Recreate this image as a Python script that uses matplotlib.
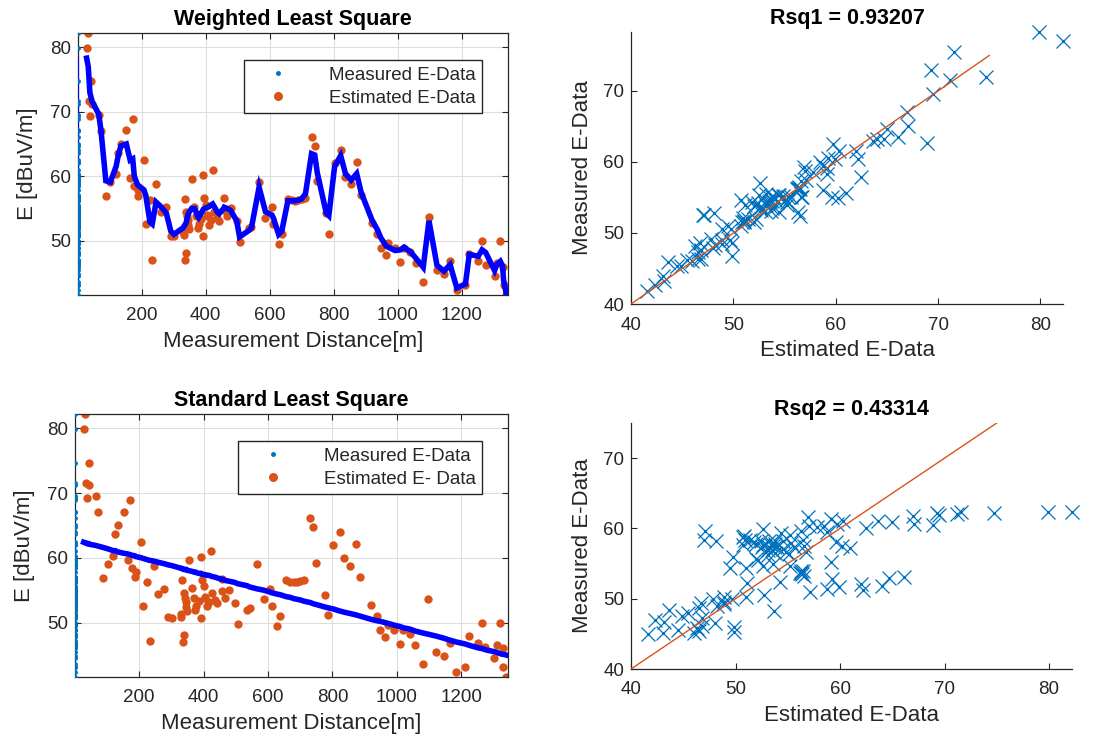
import matplotlib
import numpy as np

matplotlib.use("Agg")
import matplotlib.pyplot as plt
from matplotlib.lines import Line2D

# Measurement distance [m] of every estimated sample
distance = [
    28, 33, 35, 38, 43, 45, 66, 73, 88, 102, 120, 126, 135, 152, 164, 172,
    177, 187, 189, 207, 213, 226, 233, 245, 260, 277, 291, 301, 329, 331,
    334, 336, 339, 340, 342, 344, 346, 348, 356, 365, 370, 375, 378, 385,
    391, 393, 396, 401, 403, 406, 411, 416, 422, 427, 437, 442, 456, 458,
    468, 478, 497, 506, 535, 543, 567, 587, 607, 612, 628, 638, 657, 669,
    680, 690, 700, 712, 731, 741, 749, 777, 785, 803, 822, 837, 855, 872,
    886, 920, 937, 947, 964, 971, 992, 1009, 1020, 1040, 1057, 1080, 1098,
    1123, 1145, 1164, 1185, 1212, 1224, 1252, 1264, 1275, 1303, 1310, 1321,
    1328, 1331, 1339,
]

# Estimated E-data [dBuV/m] (orange dots)
estimated = [
    79.9, 82.2, 71.6, 69.3, 74.7, 71.2, 69.5, 67.0, 56.9, 59.1, 60.3, 63.6,
    65.0, 67.1, 59.7, 68.9, 58.5, 57.0, 57.8, 62.5, 52.6, 56.3, 47.1, 58.8,
    54.4, 55.2, 50.8, 50.7, 51.4, 50.9, 56.5, 47.0, 48.1, 54.5, 53.8, 53.2,
    52.4, 51.8, 59.6, 55.3, 53.8, 52.0, 52.6, 53.4, 50.7, 60.2, 56.6, 55.6,
    54.0, 53.8, 52.5, 53.2, 61.0, 54.5, 53.5, 53.1, 56.7, 54.8, 53.8, 55.1,
    53.1, 49.8, 52.0, 52.2, 59.1, 53.6, 55.2, 52.6, 49.5, 51.0, 56.5, 56.3,
    56.2, 56.3, 56.4, 56.6, 66.1, 64.7, 59.2, 54.3, 51.1, 62.0, 64.0, 59.9,
    58.8, 62.2, 57.1, 52.7, 51.0, 48.9, 47.8, 49.7, 48.9, 46.7, 48.9, 48.2,
    46.5, 43.6, 53.7, 45.5, 44.9, 46.8, 42.3, 43.2, 48.0, 46.8, 49.9, 46.3,
    44.5, 46.5, 49.9, 46.0, 43.1, 41.6,
]

# Weighted least square fit at each distance
wls_fit = [
    78.3, 77.0, 75.5, 73.0, 72.0, 71.6, 69.6, 67.0, 59.3, 59.1, 61.5, 63.0,
    64.7, 65.0, 62.5, 62.7, 60.0, 58.7, 58.6, 57.9, 57.0, 52.9, 52.6, 56.0,
    55.3, 54.3, 51.5, 51.0, 52.0, 52.1, 52.4, 52.5, 52.8, 53.0, 53.5, 53.9,
    54.2, 54.4, 55.0, 55.0, 54.5, 53.8, 53.6, 54.2, 54.7, 54.9, 55.0, 55.1,
    55.1, 55.2, 55.3, 55.5, 55.7, 55.3, 54.4, 54.2, 55.0, 55.2, 55.0, 54.7,
    53.1, 50.6, 51.6, 52.0, 58.3, 54.5, 54.0, 53.5, 51.0, 51.5, 56.2, 56.2,
    56.2, 56.3, 56.5, 57.3, 63.5, 63.3, 60.5, 54.3, 53.9, 61.5, 63.2, 60.4,
    59.4, 60.4, 57.5, 53.2, 51.7, 50.5, 49.2, 49.0, 48.5, 48.6, 49.0, 48.3,
    47.3, 45.9, 53.1, 46.2, 45.3, 46.3, 42.7, 43.3, 47.9, 47.6, 48.6, 48.2,
    45.4, 46.3, 46.8, 46.1, 44.0, 41.9,
]

# Standard least square fit at each distance
sls_fit = [
    62.4, 62.3, 62.3, 62.2, 62.2, 62.1, 61.9, 61.8, 61.6, 61.4, 61.1, 61.1,
    60.9, 60.7, 60.6, 60.5, 60.4, 60.3, 60.2, 60.0, 59.9, 59.7, 59.6, 59.5,
    59.3, 59.1, 58.9, 58.8, 58.4, 58.4, 58.3, 58.3, 58.2, 58.2, 58.2, 58.2,
    58.2, 58.1, 58.0, 57.9, 57.8, 57.8, 57.7, 57.6, 57.6, 57.5, 57.5, 57.4,
    57.4, 57.4, 57.3, 57.3, 57.2, 57.1, 57.0, 56.9, 56.7, 56.7, 56.5, 56.4,
    56.2, 56.0, 55.7, 55.5, 55.2, 55.0, 54.7, 54.6, 54.4, 54.3, 54.0, 53.9,
    53.7, 53.6, 53.5, 53.3, 53.1, 52.9, 52.8, 52.4, 52.3, 52.1, 51.8, 51.6,
    51.4, 51.2, 51.0, 50.5, 50.3, 50.2, 50.0, 49.9, 49.6, 49.4, 49.2, 49.0,
    48.7, 48.4, 48.2, 47.9, 47.6, 47.3, 47.0, 46.7, 46.5, 46.1, 46.0, 45.8,
    45.5, 45.4, 45.2, 45.1, 45.1, 45.0,
]

measured_x = 1          # measured series is drawn at x = 1 on the distance axis
ref_line = [40, 75]     # y = x reference line
rsq1 = 0.93207
rsq2 = 0.43314

MATLAB_BLUE = "#0072BD"
MATLAB_ORANGE = "#D95319"
AXIS_GREY = "#262626"
FIG_W, FIG_H = 1097, 736

plt.rcParams["font.family"] = ["Liberation Sans", "DejaVu Sans"]


def _rect(left, top, right, bottom):
    return [left / FIG_W, 1 - bottom / FIG_H, (right - left) / FIG_W, (bottom - top) / FIG_H]


def _style_axes(ax, boxed: bool) -> None:
    for side, spine in ax.spines.items():
        spine.set_color(AXIS_GREY)
        spine.set_linewidth(0.9)
        if not boxed and side in ("top", "right"):
            spine.set_visible(False)
    ax.tick_params(direction="in", length=4, width=0.8, colors=AXIS_GREY,
                   labelsize=13.5, top=boxed, right=boxed)
    ax.tick_params(axis="x", pad=9)
    ax.tick_params(axis="y", pad=5)


def plot_distance_panel(ax, fit, title, est_label) -> None:
    est = np.asarray(estimated)
    fit = np.asarray(fit)
    ax.plot(distance, est, "o", color=MATLAB_ORANGE, ms=6, mec="none", zorder=2)
    ax.plot(distance, fit, color="blue", lw=4, solid_joinstyle="miter", zorder=3)
    ax.plot([measured_x, measured_x], [fit.min(), fit.max()], color="blue", lw=1.5, zorder=3)
    ax.plot(np.full(len(est), measured_x), est, ".", color=MATLAB_BLUE, ms=5, zorder=4)

    ax.set_xlim(measured_x, 1345)
    ax.set_ylim(est.min(), est.max())
    ax.set_xticks(range(200, 1201, 200))
    ax.set_yticks([50, 60, 70, 80])
    ax.grid(True, color="#dedede", linewidth=0.8)
    ax.set_axisbelow(True)
    _style_axes(ax, boxed=True)

    ax.set_xlabel("Measurement Distance[m]", fontsize=16, color=AXIS_GREY, labelpad=5)
    ax.set_ylabel("E [dBuV/m]", fontsize=16, color=AXIS_GREY, labelpad=9)
    ax.set_title(title, fontsize=15.5, fontweight="bold", pad=6)

    handles = [
        Line2D([], [], ls="none", marker=".", color=MATLAB_BLUE, ms=5),
        Line2D([], [], ls="none", marker="o", color=MATLAB_ORANGE, mec="none", ms=6.5),
    ]
    leg = ax.legend(handles, ["Measured E-Data", est_label], loc="upper right",
                    bbox_to_anchor=(0.962, 0.932), fontsize=13.5, handlelength=3.0,
                    handletextpad=1.2, borderpad=0.35, labelspacing=0.3,
                    fancybox=False, framealpha=1, edgecolor=AXIS_GREY)
    leg.get_frame().set_linewidth(1.0)
    for text in leg.get_texts():
        text.set_color(AXIS_GREY)


def plot_fit_panel(ax, fit, title) -> None:
    est = np.asarray(estimated)
    fit = np.asarray(fit)
    ax.plot(est, fit, "x", color=MATLAB_BLUE, ms=10, mew=0.9, zorder=2, clip_on=False)
    ax.plot(est, fit, ".", color=MATLAB_BLUE, ms=2.5, zorder=2, clip_on=False)
    ax.plot(ref_line, ref_line, color=MATLAB_ORANGE, lw=1.0, zorder=3)

    ax.set_xlim(ref_line[0], est.max())
    ax.set_ylim(ref_line[0], max(fit.max(), ref_line[1]))
    ax.set_xticks([40, 50, 60, 70, 80])
    ax.set_yticks([40, 50, 60, 70])
    _style_axes(ax, boxed=False)

    ax.set_xlabel("Estimated E-Data", fontsize=16, color=AXIS_GREY, labelpad=5)
    ax.set_ylabel("Measured E-Data", fontsize=16, color=AXIS_GREY, labelpad=7)
    ax.set_title(title, fontsize=15.5, fontweight="bold", pad=6)


fig = plt.figure(figsize=(FIG_W / 100, FIG_H / 100), dpi=100)

ax_wls = fig.add_axes(_rect(78, 33, 508, 295))
ax_sls = fig.add_axes(_rect(75, 414, 508, 677))
ax_r1 = fig.add_axes(_rect(631, 32, 1063, 304))
ax_r2 = fig.add_axes(_rect(631, 423, 1072, 669))

plot_distance_panel(ax_wls, wls_fit, "Weighted Least Square", "Estimated E-Data")
plot_distance_panel(ax_sls, sls_fit, "Standard Least Square", "Estimated E- Data")
plot_fit_panel(ax_r1, wls_fit, f"Rsq1 = {rsq1:.5f}")
plot_fit_panel(ax_r2, sls_fit, f"Rsq2 = {rsq2:.5f}")

fig.savefig("out.png", dpi=100)
plt.close(fig)
